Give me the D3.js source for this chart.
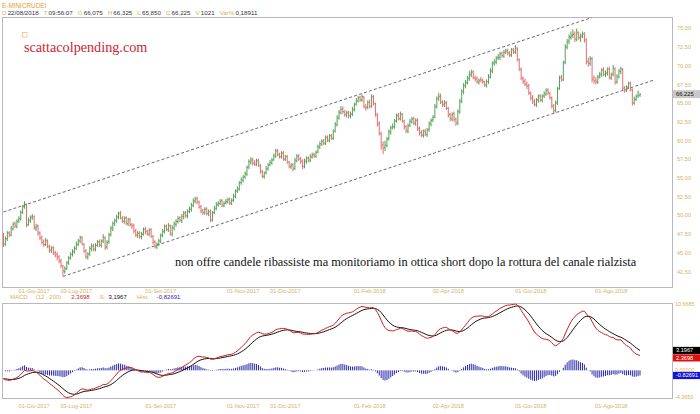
<!DOCTYPE html>
<html><head><meta charset="utf-8">
<script src="https://cdn.jsdelivr.net/npm/d3@7"></script>
<style>
body{margin:0;background:#fff}
svg{display:block}
</style>
</head><body>
<svg id="chart" width="700" height="414"></svg>
<script>
// Daily E-mini crude bars, 10 May 2017 - 22 Aug 2018
const opens = [
47.3,46.2,46.9,47.7,47.4,48.2,48.9,48.5,49.3,49.5,
50.4,51.1,51.4,48.8,49.3,49.8,49.8,48.3,48.6,47.7,
47.1,46.5,46.1,46.6,45.9,45.3,45.7,45.0,44.8,44.5,
43.9,43.2,42.5,42.9,43.6,44.3,44.8,45.2,45.6,46.1,
46.6,47.1,46.1,45.3,44.4,44.9,45.5,46.0,45.5,46.0,
46.5,46.0,46.6,47.0,45.8,46.5,47.4,48.2,48.9,49.3,
49.8,50.3,49.6,49.2,49.7,48.9,49.5,48.7,48.7,48.0,
47.3,47.7,47.1,47.5,48.2,47.9,47.5,48.1,47.2,46.5,
45.8,46.2,46.5,47.4,47.8,48.6,48.1,48.6,47.5,48.3,
48.8,49.2,49.7,49.3,49.8,50.4,49.9,50.6,50.8,51.3,
51.9,52.3,51.8,51.2,50.7,50.3,50.9,50.2,50.6,49.4,
50.4,50.9,51.4,51.6,52.0,51.3,51.7,51.8,52.2,51.6,
52.1,52.5,53.3,53.5,54.4,54.7,55.2,55.5,56.5,57.1,
57.5,57.1,56.8,57.4,56.6,55.9,55.2,55.7,56.2,56.8,
57.0,57.5,57.9,58.7,58.1,57.8,58.4,57.5,57.9,57.1,
56.5,56.8,56.3,57.3,58.0,57.5,57.3,56.6,57.2,57.7,
57.4,57.8,58.2,57.9,58.5,59.1,59.5,60.0,59.6,60.5,
60.0,60.7,60.3,61.3,62.1,63.0,63.7,64.3,63.8,63.4,
63.8,63.3,63.5,64.1,64.9,65.3,65.8,65.4,65.8,64.5,
64.5,65.2,64.6,65.8,64.9,63.4,62.3,60.9,59.5,59.1,
59.4,60.3,61.1,61.8,61.8,62.7,63.4,62.9,63.5,62.6,
61.9,61.3,62.1,62.5,63.0,62.3,62.8,61.7,61.1,60.7,
61.3,60.8,61.5,62.2,62.8,63.2,64.5,65.7,66.0,65.1,
64.8,65.1,64.3,63.5,62.9,63.6,62.9,62.3,63.8,65.2,
66.5,67.3,67.7,68.3,68.8,69.2,68.4,68.3,67.8,68.2,
68.0,67.8,67.4,67.9,68.5,69.3,70.4,70.5,71.1,71.1,
71.7,71.3,71.9,72.1,71.8,71.4,72.2,71.8,72.3,70.8,
69.5,68.3,68.0,67.5,67.4,66.3,65.8,65.3,64.8,65.5,
66.0,65.4,66.0,66.2,66.8,66.3,65.7,64.7,64.1,65.0,
67.0,68.5,68.1,70.5,72.5,73.3,73.8,74.1,74.3,73.5,
74.4,73.7,74.0,74.3,73.5,70.6,70.3,71.0,68.4,68.1,
67.8,68.6,68.8,69.5,68.8,69.0,69.6,68.4,68.9,69.6,
67.9,68.5,69.2,69.5,67.1,66.7,67.2,67.7,66.8,65.0,
65.5,66.0,66.075];
const highs = [
47.7,47.2,47.9,47.9,48.6,49.1,49.2,49.5,49.9,50.7,
51.4,51.9,51.6,49.7,50.0,50.2,50.0,48.9,48.8,47.9,
47.3,46.8,47.0,46.8,46.1,45.9,45.9,45.3,45.1,44.7,
44.2,43.4,43.2,43.9,44.6,45.1,45.5,45.9,46.5,46.9,
47.3,47.2,46.3,45.5,45.1,45.9,46.3,46.2,46.3,46.7,
46.8,46.8,47.5,47.2,46.7,47.7,48.6,49.2,49.6,50.1,
50.5,50.6,49.9,49.9,49.9,49.7,49.7,49.0,48.9,48.2,
47.9,47.9,47.8,48.4,48.5,48.1,48.3,48.3,47.4,46.7,
46.4,46.9,47.6,48.2,48.8,48.8,49.0,48.8,48.7,49.2,
49.5,49.9,49.9,50.2,50.6,50.6,50.8,51.2,51.7,52.3,
52.5,52.5,52.0,51.4,50.9,51.1,51.1,50.8,50.8,50.6,
51.3,51.8,51.9,52.2,52.2,51.9,52.2,52.4,52.4,52.3,
52.9,53.5,53.9,54.6,55.1,55.4,55.9,56.7,57.5,57.8,
57.7,57.4,57.6,57.6,56.9,56.1,55.9,56.6,57.0,57.4,
57.7,58.3,58.9,58.9,58.4,58.6,58.6,58.1,58.1,57.3,
57.0,57.0,57.7,58.2,58.2,57.8,57.5,57.6,57.9,57.9,
58.2,58.4,58.4,58.7,59.5,59.9,60.2,60.2,60.7,60.7,
60.9,60.9,61.5,62.5,63.4,64.1,64.6,64.6,64.1,64.0,
64.0,63.9,64.5,65.1,65.7,66.0,66.0,66.2,66.0,64.9,
65.4,65.5,66.2,66.1,65.1,63.7,62.6,61.2,59.9,60.0,
60.5,61.5,62.0,62.3,62.9,63.6,63.7,63.9,63.7,62.8,
62.1,62.3,62.9,63.2,63.2,63.0,63.0,61.9,61.4,61.5,
61.6,61.7,62.6,63.0,63.4,64.9,65.9,66.4,66.3,65.4,
65.4,65.3,64.5,63.7,63.8,63.9,63.1,64.2,65.6,66.9,
67.7,68.1,68.7,69.3,69.5,69.4,68.7,68.6,68.3,68.5,
68.3,68.0,68.2,68.9,69.7,70.6,70.9,71.3,71.6,71.9,
71.9,72.1,72.3,72.3,72.0,72.4,72.4,72.8,72.5,71.0,
69.8,68.6,68.3,67.9,67.6,66.6,66.1,65.6,65.7,66.2,
66.2,66.2,66.6,67.0,67.0,66.5,65.9,64.9,65.4,67.2,
68.7,68.8,70.7,72.9,73.6,74.2,74.6,74.9,74.6,75.0,
74.6,74.3,74.6,74.5,73.7,71.1,71.3,71.2,68.7,68.5,
68.8,69.2,69.7,69.8,69.4,69.8,69.9,69.1,70.1,69.8,
68.9,69.6,69.9,69.7,67.3,67.4,67.9,67.9,67.0,65.9,
66.2,66.7,66.325];
const lows = [
45.8,45.9,46.6,47.1,47.2,48.0,48.3,48.3,49.0,49.3,
50.2,50.9,48.4,48.6,49.0,49.4,48.1,47.9,47.3,46.7,
46.1,45.8,45.9,45.6,45.0,45.0,44.7,44.4,44.0,43.6,
43.0,41.9,42.2,42.7,43.4,44.1,44.5,44.9,45.4,45.9,
46.3,46.0,45.0,44.2,44.1,44.6,45.2,45.2,45.2,45.8,
45.8,45.7,46.3,45.4,45.5,46.2,47.2,47.9,48.6,49.0,
49.5,49.5,49.0,48.9,48.7,48.6,48.5,48.2,47.6,47.1,
47.0,46.9,46.8,47.3,47.5,47.3,47.2,47.0,46.1,45.6,
45.5,45.9,46.3,47.1,47.6,47.9,47.8,47.3,47.2,48.0,
48.5,48.9,49.1,49.0,49.5,49.7,49.6,50.3,50.5,51.1,
51.6,51.5,50.9,50.3,50.1,50.1,50.0,49.9,49.1,49.2,
50.2,50.7,51.2,51.4,51.1,51.1,51.5,51.6,51.4,51.4,
51.8,52.3,53.0,53.3,54.1,54.4,54.9,55.3,56.2,56.8,
56.7,56.6,56.6,56.5,55.6,55.0,54.9,55.5,56.0,56.6,
56.8,57.3,57.7,57.9,57.6,57.6,57.3,57.3,56.9,56.3,
56.2,55.9,56.1,57.1,57.3,56.9,56.2,56.3,56.9,57.1,
57.1,57.6,57.7,57.7,58.3,58.9,59.3,59.4,59.4,59.8,
59.8,60.1,60.1,61.1,61.9,62.8,63.5,63.6,63.2,63.1,
63.0,63.0,63.3,63.9,64.7,65.1,65.2,65.2,64.3,64.0,
64.2,64.3,64.4,64.7,63.2,61.9,60.7,58.8,58.2,58.6,
59.1,60.0,60.8,61.5,61.6,62.4,62.7,62.7,62.4,61.5,
61.0,61.0,61.8,62.3,62.1,62.0,61.3,60.7,60.5,60.4,
60.6,60.5,61.2,61.9,62.5,63.0,64.3,65.3,64.9,64.5,
64.5,64.1,63.1,62.6,62.6,62.5,62.0,62.1,63.6,65.0,
66.2,67.0,67.5,68.0,68.5,68.2,67.9,67.6,67.5,67.8,
67.6,67.2,67.1,67.6,68.3,69.0,70.0,70.2,70.8,70.8,
71.1,71.1,71.6,71.4,71.2,71.2,71.6,71.6,70.6,69.3,
68.1,67.6,67.3,66.9,66.1,65.4,64.9,64.6,64.5,65.1,
65.2,65.1,65.7,66.0,66.1,65.5,64.3,63.6,63.8,64.8,
66.8,67.9,68.0,70.2,72.2,72.9,73.5,73.7,73.2,73.3,
73.5,73.2,73.7,73.1,70.2,69.9,70.0,67.8,67.6,67.5,
67.6,68.3,68.5,68.6,68.5,68.7,68.2,68.1,68.6,67.5,
67.6,68.3,68.9,66.7,66.4,66.5,66.9,66.6,64.7,64.8,
65.3,65.7,65.850];
const closes = [
46.2,46.9,47.6,47.4,48.3,48.8,48.6,49.2,49.6,50.4,
51.2,51.5,48.7,49.4,49.7,49.9,48.4,48.5,47.6,47.0,
46.4,46.1,46.7,45.8,45.4,45.6,45.0,44.7,44.4,43.9,
43.3,42.6,42.9,43.7,44.3,44.8,45.1,45.6,46.2,46.6,
47.0,46.2,45.2,44.5,44.8,45.6,45.9,45.5,46.0,46.4,
46.1,46.5,47.1,45.7,46.4,47.4,48.3,48.9,49.3,49.8,
50.2,49.7,49.3,49.6,49.0,49.4,48.8,48.6,47.9,47.4,
47.6,47.2,47.5,48.1,47.8,47.6,48.0,47.2,46.4,45.9,
46.1,46.6,47.3,47.9,48.5,48.2,48.7,47.6,48.4,48.9,
49.2,49.6,49.4,49.9,50.3,50.0,50.5,50.9,51.4,52.0,
52.2,51.8,51.1,50.6,50.4,50.8,50.3,50.5,49.4,50.3,
51.0,51.5,51.6,51.9,51.4,51.6,51.9,52.1,51.7,52.0,
52.6,53.2,53.6,54.3,54.8,55.1,55.6,56.4,57.2,57.4,
57.0,56.9,57.3,56.7,55.8,55.3,55.6,56.3,56.7,57.1,
57.4,58.0,58.6,58.2,57.9,58.3,57.6,57.8,57.2,56.6,
56.7,56.2,57.4,57.9,57.6,57.2,56.5,57.3,57.6,57.4,
57.9,58.1,58.0,58.4,59.2,59.6,59.9,59.7,60.4,60.1,
60.6,60.4,61.2,62.2,63.1,63.8,64.2,63.9,63.5,63.7,
63.4,63.6,64.2,64.8,65.4,65.7,65.5,65.9,64.6,64.4,
65.1,64.6,65.9,65.0,63.5,62.2,61.0,59.3,59.0,59.4,
60.2,61.2,61.7,61.9,62.6,63.3,63.0,63.6,62.7,61.8,
61.4,62.0,62.6,62.9,62.4,62.7,61.6,61.0,60.8,61.2,
60.9,61.4,62.3,62.7,63.1,64.6,65.6,65.9,65.2,64.9,
65.0,64.4,63.4,63.0,63.5,62.8,62.4,63.9,65.3,66.6,
67.4,67.8,68.4,68.9,69.1,68.5,68.2,67.9,68.0,68.1,
67.9,67.5,67.9,68.6,69.4,70.3,70.6,71.0,71.2,71.6,
71.4,71.8,72.0,71.7,71.5,72.1,71.9,72.4,70.9,69.6,
68.4,67.9,67.6,67.3,66.4,65.7,65.2,64.9,65.4,65.9,
65.5,65.9,66.3,66.7,66.4,65.8,64.6,64.0,65.1,66.9,
68.4,68.2,70.4,72.6,73.2,73.9,74.0,74.2,73.6,74.5,
73.8,73.9,74.2,73.4,70.5,70.4,70.9,68.2,68.0,67.9,
68.5,68.9,69.4,68.9,69.1,69.5,68.5,68.8,69.7,67.8,
68.6,69.3,69.6,67.0,66.8,67.1,67.6,66.9,65.1,65.6,
65.9,66.4,66.225];

// Calendar of the session list
const firstSession = [2017, 4, 10];
const closedDays = ["2018-03-30", "2018-05-28", "2018-07-04"];
const dateTicks = ["2017-06-01","2017-07-03","2017-09-01","2017-11-01","2017-12-01",
                   "2018-02-01","2018-04-02","2018-06-01","2018-08-01"];
const monthNames = ["Gen","Feb","Mar","Apr","Mag","Giu","Lug","Ago","Set","Ott","Nov","Dic"];

// Price axis
const priceTicks = [42.5,45,47.5,50,52.5,55,57.5,60,62.5,65,67.5,70,72.5,75];
const priceDomain = [40.37, 76.47];

// Trend channel (session index, price)
const channelUpper = [[0, 50.47], [307, 76.47]];
const channelLower = [[31, 41.85], [338.8, 68.07]];

// MACD settings: fast EMA, slow EMA, signal EMA and the averages carried in from earlier sessions
const macdPeriods = [12, 200, 9];
const fastEmaStart = 48.6;
const slowEmaStart = 49.6;

// Quote header
const quoteDate = "22/08/2018", quoteTime = "09:56:07", quoteVolume = "1021", quoteVar = "0,18911";
const symbol = "E-MINICRUDEI";
const siteName = "scattacolpending.com";
const note = "non offre candele ribassiste ma monitoriamo in ottica short dopo la rottura del canale rialzista";

// ---------------------------------------------------------------
const SANS = "'Liberation Sans', Arial, sans-serif";
const SERIF = "'Liberation Serif', 'Times New Roman', serif";
const paneL = 2.5, paneR = 672.5;
const upperPane = {y0: 17.5, y1: 287.5};
const lowerPane = {y0: 303.5, y1: 398.5};
const gold = "#d4b264", upCol = "#55a055", dnCol = "#e46c6c";

// sessions: weekdays from the first session, skipping closed days
const sessions = [];
{
  let t = Date.UTC(firstSession[0], firstSession[1], firstSession[2]);
  while (sessions.length < closes.length) {
    const d = new Date(t), wd = d.getUTCDay(), iso = d.toISOString().slice(0, 10);
    if (wd !== 0 && wd !== 6 && !closedDays.includes(iso)) sessions.push(iso);
    t += 86400000;
  }
}
const bars = closes.map((c, i) => ({i, date: sessions[i], o: opens[i], h: highs[i], l: lows[i], c}));

// MACD from the closes
function ema(values, period, start) {
  const k = 2 / (period + 1);
  let prev = start;
  return values.map(v => (prev = prev + k * (v - prev)));
}
const fast = ema(closes, macdPeriods[0], fastEmaStart);
const slow = ema(closes, macdPeriods[1], slowEmaStart);
const macd = fast.map((f, i) => f - slow[i]);
const signal = ema(macd, macdPeriods[2], macd[0]);
const hist = macd.map((m, i) => m - signal[i]);
const n = closes.length;
const macdMax = d3.max([...macd, ...signal]), macdMin = d3.min([...macd, ...signal]);

const svg = d3.select("#chart").style("font-family", SANS);
const x = d3.scaleLinear().domain([0, n - 1]).range([3.5, 640]);
const y = d3.scaleLinear().domain(priceDomain).range([upperPane.y1, upperPane.y0]);
const ym = d3.scaleLinear().domain([macdMin, macdMax]).range([lowerPane.y1 - 1, lowerPane.y0 + 0.5]);

const defs = svg.append("defs");
defs.append("clipPath").attr("id", "clipTop").append("rect")
  .attr("x", paneL).attr("y", upperPane.y0).attr("width", paneR - paneL).attr("height", upperPane.y1 - upperPane.y0);
defs.append("clipPath").attr("id", "clipBot").append("rect")
  .attr("x", paneL).attr("y", lowerPane.y0).attr("width", paneR - paneL).attr("height", lowerPane.y1 - lowerPane.y0);

// pane frames
[upperPane, lowerPane].forEach(p => {
  svg.append("rect").attr("x", paneL).attr("y", p.y0).attr("width", paneR - paneL).attr("height", p.y1 - p.y0)
    .attr("fill", "#fff").attr("stroke", "#b8b8b8").attr("stroke-width", 1);
});

// header
const hdr = svg.append("g").attr("font-size", 6.2);
hdr.append("text").attr("x", 2).attr("y", 7.5).attr("fill", "#e59a2c").attr("font-size", 6.4).text(symbol);
const fmt3 = v => v.toFixed(3).replace(".", ",");
const last = bars[n - 1];
const quoteParts = [
  ["D", quoteDate], ["T", quoteTime], ["O", fmt3(last.o)], ["H", fmt3(last.h)],
  ["L", fmt3(last.l)], ["C", fmt3(last.c)], ["V", quoteVolume], ["Var%", quoteVar]
];
const qLine = hdr.append("text").attr("x", 2).attr("y", 14.5);
quoteParts.forEach(([k, v], j) => {
  qLine.append("tspan").attr("fill", gold).attr("dx", j ? 5 : 0).text(k);
  qLine.append("tspan").attr("fill", "#333").attr("dx", 1.2).text(v);
});

// price axis
svg.append("g").attr("font-size", 5.6).attr("fill", gold)
  .selectAll("text").data(priceTicks).join("text")
  .attr("x", 677).attr("y", d => y(d)).attr("dy", "0.35em").text(d => d.toFixed(2));

// channel
const chanLine = d3.line().x(d => x(d[0])).y(d => y(d[1]));
const gTop = svg.append("g").attr("clip-path", "url(#clipTop)");
[channelUpper, channelLower].forEach(seg => {
  gTop.append("path").attr("d", chanLine(seg)).attr("fill", "none")
    .attr("stroke", "#444").attr("stroke-width", 0.8).attr("stroke-dasharray", "3,2.2");
});

// OHLC bars
gTop.append("g").attr("stroke-width", 1)
  .selectAll("g").data(bars).join("g")
  .attr("stroke", d => d.c >= d.o ? upCol : dnCol)
  .each(function (d) {
    const g = d3.select(this), cx = x(d.i);
    g.append("line").attr("x1", cx).attr("x2", cx).attr("y1", y(d.h)).attr("y2", y(d.l));
    g.append("line").attr("x1", cx - 1).attr("x2", cx).attr("y1", y(d.o)).attr("y2", y(d.o));
    g.append("line").attr("x1", cx).attr("x2", cx + 1).attr("y1", y(d.c)).attr("y2", y(d.c));
  });

// last price tag
svg.append("rect").attr("x", 673).attr("y", y(last.c) - 4).attr("width", 27).attr("height", 8).attr("fill", "#c9c9c9");
svg.append("text").attr("x", 676).attr("y", y(last.c)).attr("dy", "0.35em").attr("font-size", 5.8)
  .attr("fill", "#111").text(last.c.toFixed(3));

// watermark
svg.append("rect").attr("x", 22.5).attr("y", 32.5).attr("width", 4.5).attr("height", 4.5)
  .attr("fill", "none").attr("stroke", "#e6c877").attr("stroke-width", 0.8);
svg.append("text").attr("x", 24).attr("y", 51.5).style("font-family", SERIF)
  .attr("font-size", 14.2).attr("fill", "#cc2630").text(siteName);

// note
const noteText = svg.append("text").attr("x", 175).attr("y", 265.5).style("font-family", SERIF)
  .attr("font-size", 12).attr("fill", "#111").text(note);
const nl = noteText.node().getComputedTextLength();
noteText.attr("font-size", 12 * 462 / nl);

// date labels
const fmtDate = iso => {
  const [yy, mm, dd] = iso.split("-");
  return `${dd}-${monthNames[+mm - 1]}-${yy}`;
};
const tickIdx = dateTicks.map(t => ({t, i: sessions.indexOf(t)})).filter(d => d.i >= 0);
[291, 406].forEach(yy => {
  svg.append("g").attr("font-size", 5.6).attr("fill", gold).attr("text-anchor", "middle")
    .selectAll("text").data(tickIdx).join("text")
    .attr("x", d => x(d.i)).attr("y", yy).attr("dy", "0.35em").text(d => fmtDate(d.t));
});

// MACD pane
const gBot = svg.append("g").attr("clip-path", "url(#clipBot)");
gBot.append("g").attr("stroke", "#2a2aa8").attr("stroke-width", 1)
  .selectAll("line").data(hist).join("line")
  .attr("x1", (d, i) => x(i)).attr("x2", (d, i) => x(i))
  .attr("y1", ym(0)).attr("y2", d => ym(d));
const ml = d3.line().x((d, i) => x(i)).y(d => ym(d));
gBot.append("path").attr("d", ml(signal)).attr("fill", "none").attr("stroke", "#111").attr("stroke-width", 1);
gBot.append("path").attr("d", ml(macd)).attr("fill", "none").attr("stroke", "#d21a1a").attr("stroke-width", 1);

// MACD header
const fmtC = (v, p) => v.toFixed(p).replace(".", ",");
const mLast = macd[n - 1], sLast = signal[n - 1], hLast = hist[n - 1];
const mh = svg.append("text").attr("x", 10).attr("y", 299).attr("font-size", 6);
[["MACD", gold, 0], [`(${macdPeriods[0]} , ${macdPeriods[1]})`, gold, 8], [fmtC(mLast, 4), "#d21a1a", 10],
 ["S:", gold, 10], [fmtC(sLast, 4), "#111", 3], ["Hist:", gold, 10], [fmtC(hLast, 5), "#2a2aa8", 8]]
  .forEach(([t, c, dx]) => mh.append("tspan").attr("fill", c).attr("dx", dx).text(t));

// MACD axis
svg.append("g").attr("font-size", 5.4).attr("fill", gold)
  .selectAll("text").data([macdMax, 0, macdMin]).join("text")
  .attr("x", 675).attr("y", d => ym(d)).attr("dy", "0.35em")
  .text(d => d === 0 ? "0.00000" : d.toFixed(4));
const tags = [
  {v: sLast, label: sLast.toFixed(4), bg: "#000"},
  {v: mLast, label: mLast.toFixed(4), bg: "#e01010"},
  {v: hLast, label: hLast.toFixed(5), bg: "#1414d8"}
];
// keep the value tags from overlapping
tags.sort((a, b) => b.v - a.v);
let prevBottom = -Infinity;
tags.forEach(t => {
  let cy = Math.max(ym(t.v), prevBottom + 3.8);
  prevBottom = cy + 3.6;
  svg.append("rect").attr("x", 673).attr("y", cy - 3.6).attr("width", 27).attr("height", 7.2).attr("fill", t.bg);
  svg.append("text").attr("x", 676).attr("y", cy).attr("dy", "0.35em").attr("font-size", 5.6)
    .attr("fill", "#fff").text(t.label);
});
</script>
</body></html>
